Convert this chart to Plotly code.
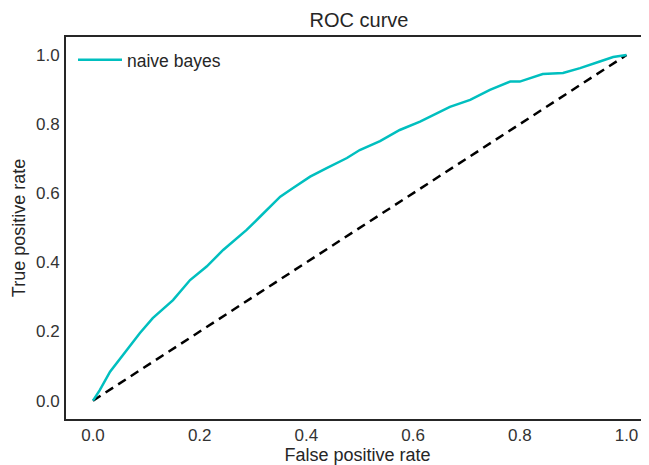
import plotly.graph_objects as go

# ROC curve values
fpr = [0.0, 0.013, 0.032, 0.063, 0.088, 0.112, 0.15, 0.182, 0.213, 0.244, 0.288, 0.313,
       0.351, 0.375, 0.407, 0.438, 0.476, 0.5, 0.538, 0.575, 0.613, 0.669, 0.707, 0.744,
       0.782, 0.8, 0.843, 0.881, 0.913, 0.95, 0.975, 1.0]
tpr = [0.0, 0.031, 0.084, 0.147, 0.196, 0.239, 0.291, 0.349, 0.388, 0.436, 0.494, 0.532,
       0.590, 0.615, 0.648, 0.673, 0.702, 0.725, 0.751, 0.783, 0.807, 0.850, 0.870, 0.899,
       0.923, 0.923, 0.945, 0.948, 0.962, 0.981, 0.994, 1.0]
diag = [0.0, 1.0]
series_name = "naive bayes"
tick_vals = [0.0, 0.2, 0.4, 0.6, 0.8, 1.0]
tick_text = ["0.0", "0.2", "0.4", "0.6", "0.8", "1.0"]

FONT = "Liberation Sans, Arial, sans-serif"
DARK = "#262626"
TICK = "#333333"

# The page body has an 8px margin, so the figure is drawn 8px in from the corner.
W, H = 641, 457

fig = go.Figure()
fig.add_trace(go.Scatter(x=diag, y=diag, mode="lines", showlegend=False,
                         line=dict(color="black", width=2.5, dash="9px,6px"),
                         hoverinfo="skip"))
fig.add_trace(go.Scatter(x=fpr, y=tpr, mode="lines", name=series_name,
                         line=dict(color="#00bfbf", width=2.5)))

fig.update_layout(
    width=W, height=H,
    margin=dict(l=58, r=0, t=29, b=46, autoexpand=False),
    paper_bgcolor="white", plot_bgcolor="white",
    font=dict(family=FONT, size=17, color=DARK),
    title=dict(text="ROC curve", x=351 / W, xref="container", xanchor="center",
               y=1 - 12 / H, yanchor="middle", yref="container",
               font=dict(size=20, color=DARK)),
    legend=dict(x=0.012, y=0.987, xanchor="left", yanchor="top",
                bgcolor="rgba(0,0,0,0)", borderwidth=0,
                font=dict(size=17.5, color=DARK), itemwidth=44),
    showlegend=True,
)
fig.update_xaxes(range=[-0.0506, 1.0422], tickvals=tick_vals, ticktext=tick_text,
                 showgrid=False, zeroline=False, showline=True, linecolor=DARK,
                 linewidth=2, mirror=True, ticks="", ticklabelstandoff=0,
                 automargin=False,
                 tickfont=dict(size=17, color=TICK),
                 title=dict(text="False positive rate", standoff=2,
                            font=dict(size=18, color=DARK)))
fig.update_yaxes(range=[-0.053, 1.052], tickvals=tick_vals, ticktext=tick_text,
                 showgrid=False, zeroline=False, showline=True, linecolor=DARK,
                 linewidth=2, mirror=False, ticks="", ticklabelstandoff=1,
                 automargin=False,
                 tickfont=dict(size=17, color=TICK),
                 title=dict(text="True positive rate", standoff=6,
                            font=dict(size=18, color=DARK)))

fig.write_html("out.html")
